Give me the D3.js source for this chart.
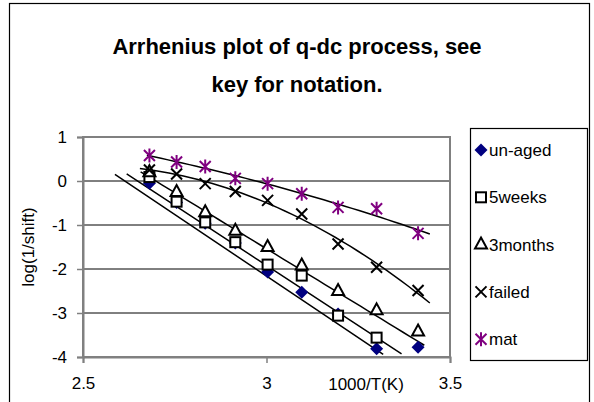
<!doctype html>
<html lang="en">
<head>
  <meta charset="utf-8">
  <title>Arrhenius plot</title>
  <script src="https://d3js.org/d3.v7.min.js"></script>
<style>
  body { margin: 0; background: #fff; }
  text { font-family: "Liberation Sans", Arial, sans-serif; fill: #000; }
</style>
</head>
<body>
<div id="chart"></div>
<script>
// 1000/T(K) for 100, 90, ... 20 C
var invT = [2.681, 2.755, 2.833, 2.915, 3.003, 3.096, 3.195, 3.300, 3.413];

var names = ["un-aged", "5weeks", "3months", "failed", "mat"];
var unAged   = [-0.05, -0.49, -0.96, -1.41, -2.07, -2.53, -3.02, -3.81, -3.78];
var fiveWeeks = [0.09, -0.47, -0.94, -1.39, -1.90, -2.15, -3.06, -3.56, null];
var threeMonths = [0.20, -0.25, -0.71, -1.13, -1.50, -1.92, -2.50, -2.94, -3.42];
var failed   = [0.25, 0.16, -0.06, -0.24, -0.44, -0.75, -1.43, -1.96, -2.49];
var mat      = [0.58, 0.43, 0.33, 0.06, -0.06, -0.29, -0.60, -0.63, -1.19];

var xTicks = [2.5, 3, 3.5];
var yTicks = [1, 0, -1, -2, -3, -4];

// trendlines: linear ones (slope, intercept),
// failed & mat are 2nd order fits done below
var trendSlope = [-5.60, -5.46, -5.10, null, null];
var trendIntercept = [14.64, 14.46, 13.76, null, null];
var trendFrom = [2.587, 2.619, 2.657, 2.655, 2.674];
var trendTo   = [3.318, 3.368, 3.430, 3.445, 3.445];

var series = [unAged, fiveWeeks, threeMonths, failed, mat];

var W = 594, H = 402;
var plot = {left: 83, right: 450, top: 137, bottom: 357};

var svg = d3.select("#chart").append("svg")
    .attr("width", W).attr("height", H);

svg.append("rect").attr("x", 9.5).attr("y", 3.5)
    .attr("width", 580).attr("height", 420)
    .attr("fill", "#fff").attr("stroke", "#000").attr("stroke-width", 1.2);

svg.append("text").attr("x", 297).attr("y", 54)
    .attr("text-anchor", "middle").style("font-size", "22px").style("font-weight", "bold")
    .text("Arrhenius plot of q-dc process, see");
svg.append("text").attr("x", 297).attr("y", 92)
    .attr("text-anchor", "middle").style("font-size", "22px").style("font-weight", "bold")
    .text("key for notation.");

var x = d3.scaleLinear().domain([2.5, 3.5]).range([plot.left, plot.right]);
var y = d3.scaleLinear().domain([-4, 1]).range([plot.bottom, plot.top]);

// gridlines
svg.append("g").selectAll("line")
    .data(yTicks.filter(function (d) { return d > -4 && d < 1; }))
    .enter().append("line")
    .attr("x1", plot.left).attr("x2", plot.right)
    .attr("y1", function (d) { return y(d); }).attr("y2", function (d) { return y(d); })
    .attr("stroke", "#000").attr("stroke-width", 1);

// plot area border
svg.append("rect").attr("x", plot.left).attr("y", plot.top)
    .attr("width", plot.right - plot.left).attr("height", plot.bottom - plot.top)
    .attr("fill", "none").attr("stroke", "#808080").attr("stroke-width", 2);

// axes
var xAxis = svg.append("g").attr("transform", "translate(0," + plot.bottom + ")")
    .call(d3.axisBottom(x).tickValues(xTicks).tickSize(6).tickPadding(14)
        .tickFormat(function (d) { return String(d); }));
var yAxis = svg.append("g").attr("transform", "translate(" + plot.left + ",0)")
    .call(d3.axisLeft(y).tickValues(yTicks).tickSize(6).tickPadding(10)
        .tickFormat(function (d) { return d3.format("d")(d).replace("\u2212", "-"); }));
[xAxis, yAxis].forEach(function (a) {
  a.select(".domain").attr("stroke", "#808080").attr("stroke-width", 2);
  a.selectAll(".tick line").attr("stroke", "#808080").attr("stroke-width", 1.5);
  a.selectAll(".tick text").style("font-size", "17px")
      .style("font-family", "'Liberation Sans', Arial, sans-serif").attr("fill", "#000");
});

svg.append("text").attr("x", 366).attr("y", 390)
    .attr("text-anchor", "middle").style("font-size", "17px").text("1000/T(K)");
svg.append("text")
    .attr("transform", "translate(34," + ((plot.top + plot.bottom) / 2) + ") rotate(-90)")
    .attr("text-anchor", "middle").style("font-size", "17px").text("log(1/shift)");

// least squares polynomial fit (order 2)
function fit2(xs, ys) {
  var S = [[0, 0, 0], [0, 0, 0], [0, 0, 0]], b = [0, 0, 0];
  xs.forEach(function (xv, i) {
    if (ys[i] == null) return;
    var u = xv - 3, p = [1, u, u * u];
    for (var r = 0; r < 3; r++) {
      b[r] += p[r] * ys[i];
      for (var c = 0; c < 3; c++) S[r][c] += p[r] * p[c];
    }
  });
  // gaussian elimination
  for (var k = 0; k < 3; k++) {
    for (var r2 = k + 1; r2 < 3; r2++) {
      var f = S[r2][k] / S[k][k];
      for (var c2 = k; c2 < 3; c2++) S[r2][c2] -= f * S[k][c2];
      b[r2] -= f * b[k];
    }
  }
  var co = [0, 0, 0];
  for (var k2 = 2; k2 >= 0; k2--) {
    var s = b[k2];
    for (var c3 = k2 + 1; c3 < 3; c3++) s -= S[k2][c3] * co[c3];
    co[k2] = s / S[k2][k2];
  }
  return function (xv) { var u = xv - 3; return co[0] + co[1] * u + co[2] * u * u; };
}

svg.append("clipPath").attr("id", "plotclip").append("rect")
    .attr("x", plot.left).attr("y", plot.top)
    .attr("width", plot.right - plot.left).attr("height", plot.bottom - plot.top);

var trendG = svg.append("g").attr("clip-path", "url(#plotclip)");
series.forEach(function (ys, i) {
  var f = trendSlope[i] != null
      ? function (xv) { return trendSlope[i] * xv + trendIntercept[i]; }
      : fit2(invT, ys);
  var pts = d3.range(0, 41).map(function (k) {
    var xv = trendFrom[i] + (trendTo[i] - trendFrom[i]) * k / 40;
    return [x(xv), y(f(xv))];
  });
  trendG.append("path").attr("d", d3.line()(pts))
      .attr("fill", "none").attr("stroke", "#000").attr("stroke-width", 1.5);
});

// markers
function marker(g, i, cx, cy) {
  if (i === 0) {
    g.append("path").attr("d", "M" + cx + "," + (cy - 6.5) + "L" + (cx + 6.5) + "," + cy +
        "L" + cx + "," + (cy + 6.5) + "L" + (cx - 6.5) + "," + cy + "Z")
        .attr("fill", "#000080");
  } else if (i === 1) {
    g.append("rect").attr("x", cx - 5).attr("y", cy - 5).attr("width", 10).attr("height", 10)
        .attr("fill", "#fff").attr("stroke", "#000").attr("stroke-width", 2);
  } else if (i === 2) {
    g.append("path").attr("d", "M" + cx + "," + (cy - 7) + "L" + (cx + 6) + "," + (cy + 4) +
        "L" + (cx - 6) + "," + (cy + 4) + "Z")
        .attr("fill", "#fff").attr("stroke", "#000").attr("stroke-width", 2);
  } else if (i === 3) {
    g.append("path").attr("d", "M" + (cx - 5.5) + "," + (cy - 5.5) + "L" + (cx + 5.5) + "," + (cy + 5.5) +
        "M" + (cx + 5.5) + "," + (cy - 5.5) + "L" + (cx - 5.5) + "," + (cy + 5.5))
        .attr("stroke", "#000").attr("stroke-width", 2);
  } else {
    g.append("path").attr("d", "M" + (cx - 5.5) + "," + (cy - 5.5) + "L" + (cx + 5.5) + "," + (cy + 5.5) +
        "M" + (cx + 5.5) + "," + (cy - 5.5) + "L" + (cx - 5.5) + "," + (cy + 5.5) +
        "M" + cx + "," + (cy - 7) + "L" + cx + "," + (cy + 7))
        .attr("stroke", "#800080").attr("stroke-width", 2);
  }
}

series.forEach(function (ys, i) {
  var g = svg.append("g");
  ys.forEach(function (v, k) {
    if (v == null) return;
    marker(g, i, x(invT[k]), y(v));
  });
});

// legend
var lg = svg.append("g");
lg.append("rect").attr("x", 470.5).attr("y", 128.5).attr("width", 117).attr("height", 232)
    .attr("fill", "#fff").attr("stroke", "#000").attr("stroke-width", 1.2);
names.forEach(function (n, i) {
  var cy = 150 + i * 47.3;
  marker(lg, i, 481, cy);
  lg.append("text").attr("x", 489).attr("y", cy + 6).style("font-size", "17px").text(n);
});
</script>
</body>
</html>
